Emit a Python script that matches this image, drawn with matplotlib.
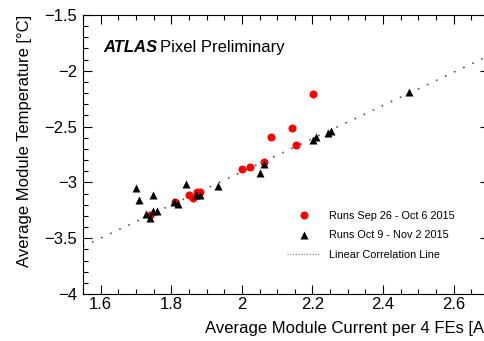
import numpy as np
import matplotlib
matplotlib.use("Agg")
import matplotlib.pyplot as plt
from matplotlib.lines import Line2D
from matplotlib.ticker import MultipleLocator

plt.rcParams['font.family'] = ['Liberation Sans', 'DejaVu Sans']

# runs Sep 26 - Oct 6 2015
current_a = [1.740, 1.811, 1.851, 1.861, 1.872, 1.881, 2.000, 2.023, 2.063,
             2.082, 2.143, 2.153, 2.202]
temp_a = [-3.295, -3.176, -3.116, -3.137, -3.083, -3.083, -2.884, -2.862, -2.817,
          -2.592, -2.512, -2.667, -2.208]

# runs Oct 9 - Nov 2 2015
current_b = [1.700, 1.709, 1.748, 1.728, 1.740, 1.748, 1.760, 1.809, 1.818, 1.842,
             1.870, 1.881, 1.932, 2.051, 2.063, 2.202, 2.210, 2.245, 2.253, 2.474]
temp_b = [-3.054, -3.156, -3.116, -3.280, -3.315, -3.259, -3.259, -3.176, -3.190, -3.018,
          -3.116, -3.116, -3.031, -2.913, -2.835, -2.616, -2.594, -2.554, -2.536, -2.190]

# linear correlation line
fit_slope = 1.487
fit_intercept = -5.879

x_lo, x_hi = 1.55, 2.70
y_lo, y_hi = -4.0, -1.5

fig = plt.figure(figsize=(4.85, 3.41), dpi=100)
ax = fig.add_axes([83 / 485, 1 - 294 / 341, 406 / 485, 279 / 341])

xs = np.array([x_lo, x_hi])
ax.plot(xs, fit_slope * xs + fit_intercept, color='#555555', lw=1.2,
        linestyle=(0, (1, 5)), zorder=1)
ax.plot(current_a, temp_a, 'o', color='red', ms=5.8, mec='none', zorder=2)
ax.plot(current_b, temp_b, '^', color='black', ms=5.6, mec='none', zorder=3)

ax.set_xlim(x_lo, x_hi)
ax.set_ylim(y_lo, y_hi)
ax.xaxis.set_major_locator(MultipleLocator(0.2))
ax.xaxis.set_minor_locator(MultipleLocator(0.05))
ax.yaxis.set_major_locator(MultipleLocator(0.5))
ax.yaxis.set_minor_locator(MultipleLocator(0.1))
ax.xaxis.set_major_formatter(plt.FuncFormatter(lambda v, p: f"{v:g}"))
ax.yaxis.set_major_formatter(plt.FuncFormatter(lambda v, p: f"{v:g}".replace('-', '\u2212')))
ax.tick_params(which='both', direction='in', top=True, right=True, labelsize=12,
               width=0.8, color='black')
ax.tick_params(which='major', length=6.5)
ax.tick_params(which='minor', length=3.3)
ax.tick_params(axis='x', pad=2)
ax.tick_params(axis='y', pad=4)
for s in ax.spines.values():
    s.set_linewidth(0.8)

ax.set_xlabel('Average Module Current per 4 FEs [A]', fontsize=12, loc='right')
ax.xaxis.set_label_coords(1.0, -0.097)
ax.xaxis.label.set_va('top')
ax.set_ylabel('Average Module Temperature [\u00b0C]', fontsize=12, loc='top')
ax.yaxis.set_label_coords(-0.125, 1.0)

ax.text(0.049, 0.869, 'ATLAS', transform=ax.transAxes, fontsize=12,
        fontweight='bold', fontstyle='italic', va='baseline')
ax.text(0.19, 0.869, 'Pixel Preliminary', transform=ax.transAxes, fontsize=12,
        va='baseline')

handles = [
    Line2D([], [], marker='o', color='red', ls='none', ms=5.8, mec='none'),
    Line2D([], [], marker='^', color='black', ls='none', ms=5.6, mec='none'),
    Line2D([], [], color='#777777', lw=0.8, linestyle=(0, (1, 1.5))),
]
labels = ['Runs Sep 26 - Oct 6 2015', 'Runs Oct 9 - Nov 2 2015', 'Linear Correlation Line']
ax.legend(handles, labels, loc='upper left', bbox_to_anchor=(0.502, 0.297),
          frameon=False, fontsize=7.8, handlelength=3.1, handletextpad=0.75,
          labelspacing=0.85, borderpad=0, borderaxespad=0)

fig.savefig('out.png', dpi=100)
